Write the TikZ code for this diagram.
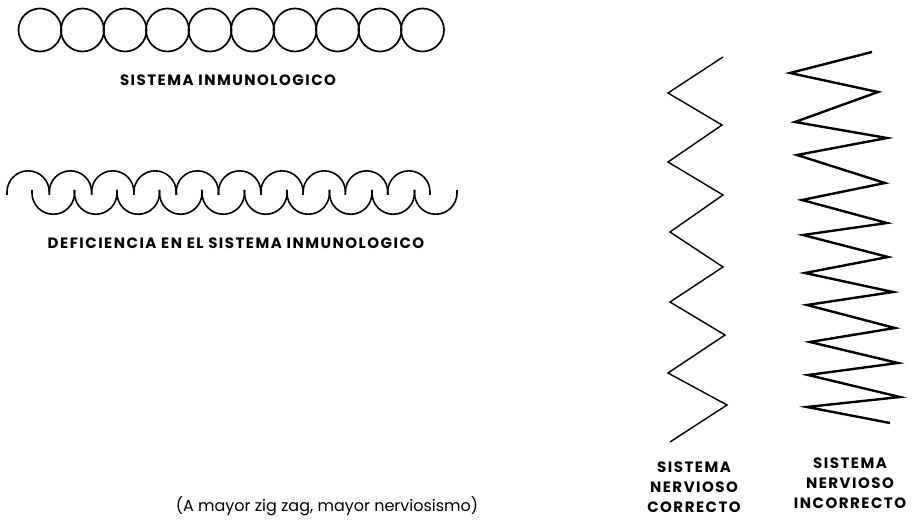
\documentclass[tikz,border=0pt]{standalone}
\usepackage{fontspec}
\setmainfont{Poppins}
\newfontfamily\rotulofont[LetterSpace=10]{Poppins}
\usetikzlibrary{positioning}
\tikzset{
  anillo/.style={line width=1.7pt},
  onda/.style={line width=1.6pt},
  zigzag/.style={line width=1.4pt, line join=miter, miter limit=12},
  zigzagfuerte/.style={line width=2.4pt, line join=miter, miter limit=25},
  rotulo/.style={font=\rotulofont\bfseries\fontsize{15}{20}\selectfont, align=center, inner sep=0pt},
  nota/.style={font=\fontsize{16}{18}\selectfont, inner sep=0pt}}

\begin{document}
\begin{tikzpicture}[x=1pt,y=-1pt]
\useasboundingbox (0,0) rectangle (919,524);
% sistema inmunologico
\foreach \i in {0,...,9}
  \draw [anillo] (40+42.5*\i,30) circle [radius=21.5pt];
\node [rotulo] (inmuno) at (228,80) {SISTEMA INMUNOLOGICO};
% deficiencia
\foreach \i in {0,...,9}
  \draw [onda] (7+42.3*\i,195) -- ++(0,-3) arc [start angle=180, end angle=0, radius=21.15pt] -- ++(0,3);
\foreach \i in {0,...,9}
  \draw [onda] (32+42.5*\i,190) -- ++(0,3) arc [start angle=180, end angle=360, radius=21.25pt] -- ++(0,-3);
\node [rotulo] (deficiencia) at (236,243) {DEFICIENCIA EN EL SISTEMA INMUNOLOGICO};
% sistema nervioso
\draw [zigzag] (723,57) -- (668,93) -- (722,125) -- (668,162) -- (723,195) -- (670,232)
  -- (723,267) -- (670,302) -- (725,335) -- (668,373) -- (727,405) -- (670,442);
\draw [zigzagfuerte] (872,52) -- (790,73) -- (878,92) -- (795,122) -- (887,138) -- (797,155)
  -- (885,183) -- (802,200) -- (887,223) -- (803,235) -- (888,257) -- (805,273)
  -- (893,292) -- (807,305) -- (895,328) -- (810,342) -- (898,363) -- (808,375)
  -- (900,397) -- (807,407) -- (890,423);
\node [rotulo] (correcto) at (694,487) {SISTEMA\\NERVIOSO\\CORRECTO};
\node [rotulo] (incorrecto) at (850,483) {SISTEMA\\NERVIOSO\\INCORRECTO};
\node [nota] (zigzagnota) at (327,506) {(A mayor zig zag, mayor nerviosismo)};
\end{tikzpicture}
\end{document}
